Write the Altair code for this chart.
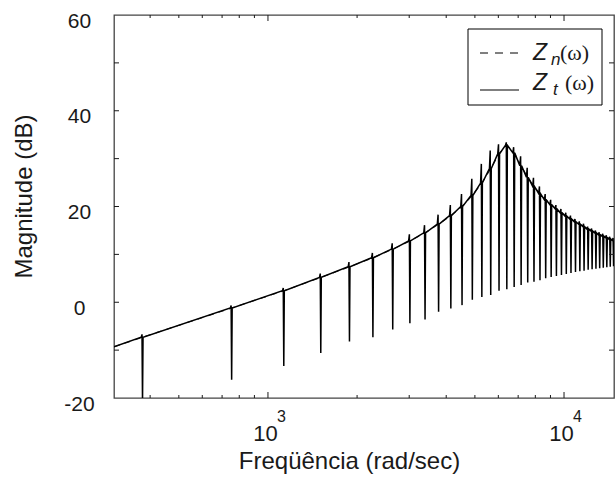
import altair as alt
import pandas as pd

# ---------------- data ----------------
x_domain = [302, 14750]
y_domain = [-20, 60]

# smooth curve Zn: start, values at the notch frequencies, end
start_freq, start_level = 302, -9.3
end_freq, end_level = 14750, 12.85

notch_freq = [377, 754, 1131, 1508, 1885, 2262, 2639, 3016, 3393, 3770,
              4147, 4524, 4901, 5278, 5655, 6032, 6409, 6786, 7163, 7540,
              7917, 8294, 8671, 9048, 9425, 9802, 10179, 10556, 10933, 11310,
              11687, 12064, 12441, 12818, 13195, 13572, 13949, 14326, 14703]
notch_level = [-7.3, -1.2, 2.4, 5.2, 7.4, 9.3, 11.1, 12.8, 14.5, 16.3,
               18.1, 20.0, 22.3, 24.9, 27.9, 31.0, 32.8, 31.2, 28.5, 26.1,
               24.2, 22.7, 21.4, 20.4, 19.5, 18.7, 18.0, 17.4, 16.8, 16.3,
               15.8, 15.3, 14.9, 14.5, 14.1, 13.8, 13.5, 13.2, 12.9]
notch_top = [-6.7, -0.7, 3.0, 6.0, 8.4, 10.3, 12.3, 14.2, 16.1, 18.3,
             20.3, 22.6, 25.8, 28.9, 31.7, 33.0, 33.4, 32.4, 30.5, 28.1,
             26.0, 24.2, 22.6, 21.4, 20.3, 19.5, 18.7, 18.1, 17.4, 16.9,
             16.4, 15.8, 15.4, 15.0, 14.6, 14.3, 14.0, 13.7, 13.4]
notch_bottom = [-21.0, -16.2, -13.3, -10.6, -8.2, -7.3, -5.7, -4.4, -3.6, -2.0,
                -1.3, -0.6, 0.5, 1.1, 1.5, 2.4, 2.7, 3.2, 3.6, 4.1,
                4.3, 4.6, 5.0, 5.3, 5.5, 5.7, 5.9, 6.1, 6.3, 6.5,
                6.6, 6.8, 6.9, 7.0, 7.1, 7.2, 7.3, 7.4, 7.5]

x_label_values = [1000, 10000]
x_label_exps = ["3", "4"]
x_major_ticks = [1000, 10000]
x_minor_ticks = [400, 500, 600, 700, 800, 900,
                 2000, 3000, 4000, 5000, 6000, 7000, 8000, 9000]
y_label_values = [-20, 0, 20, 40, 60]
y_ticks = [-10, 0, 10, 20, 30, 40, 50]

x_title = "Freqüência (rad/sec)"
y_title = "Magnitude (dB)"

# ---------------- tables ----------------
df_n = pd.DataFrame({"f": [start_freq] + notch_freq + [end_freq],
                     "v": [start_level] + notch_level + [end_level]})

zt_f, zt_v = [start_freq], [start_level]
for f, lvl, top, bot in zip(notch_freq, notch_level, notch_top, notch_bottom):
    zt_f += [f * 0.990, f * 0.996, f, f * 1.004]
    zt_v += [lvl, top, bot, lvl]
zt_f.append(end_freq)
zt_v.append(end_level)
df_t = pd.DataFrame({"f": zt_f, "v": zt_v})

df_xmaj = pd.DataFrame({"f": x_major_ticks})
df_xmin = pd.DataFrame({"f": x_minor_ticks})
df_yt = pd.DataFrame({"v": y_ticks})
df_exp = pd.DataFrame({"f": x_label_values, "t": x_label_exps})
one = pd.DataFrame({"d": [0]})

W, H = 500, 383
FONT = "Liberation Sans"
INK = "#1a1a1a"

xs = alt.Scale(type="log", domain=x_domain, nice=False)
ys = alt.Scale(domain=y_domain, nice=False, zero=False)

x_axis = alt.Axis(values=x_label_values, labelExpr="'10'", ticks=False, tickSize=0,
                  domain=False, grid=False, labelFontSize=22, labelFont=FONT,
                  labelColor=INK, labelBaseline="alphabetic", labelPadding=42,
                  labelOffset=-3, labelFlush=False, labelOverlap=False,
                  title=x_title, titleFont=FONT, titleFontSize=24,
                  titleFontWeight="normal", titleColor=INK, titleX=235, titleY=70,
                  titleAlign="center", titleBaseline="alphabetic")
y_axis = alt.Axis(values=y_label_values, labelExpr="toString(datum.value)",
                  ticks=False, tickSize=0, domain=False,
                  grid=False, labelFontSize=21, labelFont=FONT, labelColor=INK,
                  labelAlign="center", labelBaseline="middle", labelPadding=35,
                  labelOffset=6, labelFlush=False, labelOverlap=False,
                  title=y_title, titleFont=FONT, titleFontSize=24,
                  titleFontWeight="normal", titleColor=INK, titleX=-83, titleY=181,
                  titleAlign="center", titleBaseline="alphabetic")

X = alt.X("f:Q", scale=xs, axis=x_axis, title=x_title)
Y = alt.Y("v:Q", scale=ys, axis=y_axis, title=y_title)

zn = alt.Chart(df_n).mark_line(color="#222222", strokeWidth=1.1, strokeDash=[6, 5],
                               clip=True).encode(x=X, y=Y)

zt = alt.Chart(df_t).mark_line(color="black", strokeWidth=1.5, clip=True,
                               strokeJoin="miter").encode(x=X, y=Y)

def xticks(df, y0, y1):
    return alt.Chart(df).mark_rule(color=INK, strokeWidth=1).encode(
        x=X, y=alt.value(y0), y2=alt.value(y1))

def yticks(x0, x1):
    return alt.Chart(df_yt).mark_rule(color=INK, strokeWidth=1).encode(
        y=Y, x=alt.value(x0), x2=alt.value(x1))

tick_layers = [xticks(df_xmin, H, H - 3), xticks(df_xmaj, H, H - 6),
               xticks(df_xmin, 0, 3), xticks(df_xmaj, 0, 6),
               yticks(0, 5), yticks(W, W - 5)]

exps = alt.Chart(df_exp).mark_text(align="left", baseline="alphabetic", fontSize=16,
                                   font=FONT, color=INK, dx=9).encode(
    x=X, y=alt.value(H + 24), text="t:N")

# legend drawn by hand
leg_box = alt.Chart(one).mark_rect(fill="white", stroke="black", strokeWidth=1).encode(
    x=alt.value(354), x2=alt.value(488), y=alt.value(14), y2=alt.value(90))
leg_dash = alt.Chart(one).mark_rule(color="black", strokeWidth=1, strokeDash=[8, 7]).encode(
    x=alt.value(366), x2=alt.value(404), y=alt.value(38))
leg_solid = alt.Chart(one).mark_rule(color="black", strokeWidth=1.1).encode(
    x=alt.value(366), x2=alt.value(405), y=alt.value(75))

def txt(s, x, y, size, style="normal", font=FONT):
    return alt.Chart(one).mark_text(align="left", baseline="alphabetic", fontSize=size,
                                    fontStyle=style, font=font, color=INK).encode(
        x=alt.value(x), y=alt.value(y), text=alt.value(s))

leg_text = [txt("Z", 419, 45, 23, "italic"), txt("n", 437, 50, 17, "italic"),
            txt("(ω)", 446, 45, 22, font="Liberation Serif"),
            txt("Z", 419, 75, 23, "italic"), txt("t", 439, 80, 17, "italic"),
            txt("(ω)", 451, 75, 22, font="Liberation Serif")]

chart = alt.layer(zn, zt, *tick_layers, exps, leg_box, leg_dash, leg_solid,
                  *leg_text).properties(
    width=W, height=H,
    autosize=alt.AutoSizeParams(type="none"),
    padding={"left": 114, "top": 15, "right": 1, "bottom": 79},
    background="white",
).configure_view(stroke="#444444", strokeWidth=1.3)

chart.save("out.html", embed_options={"renderer": "svg", "actions": False})
